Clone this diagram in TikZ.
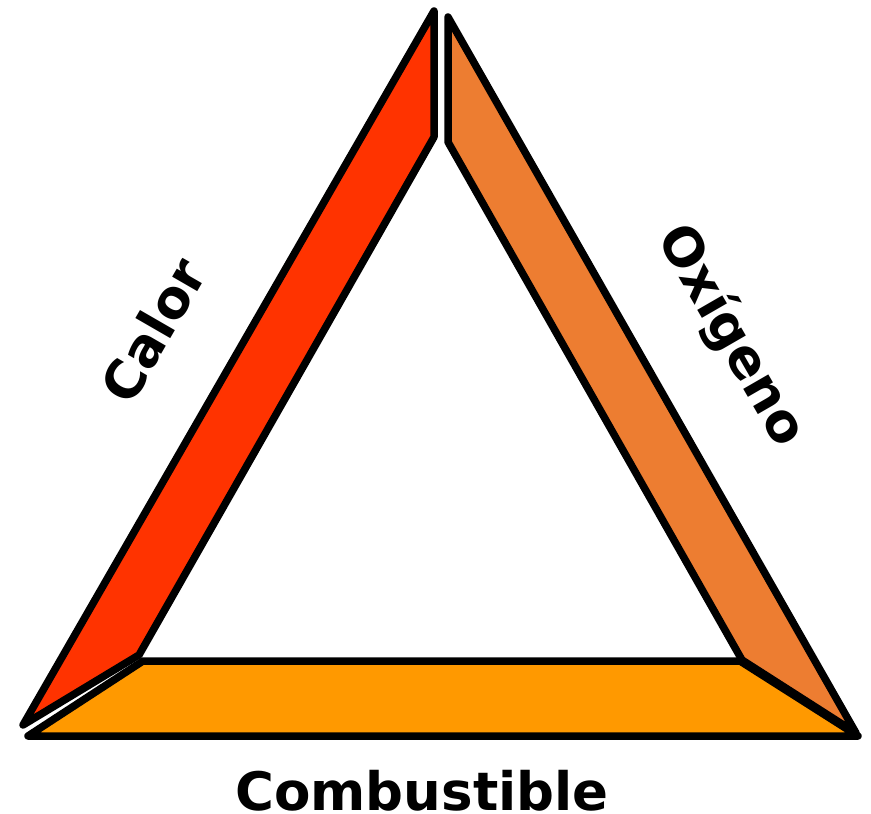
\documentclass[tikz,border=0pt]{standalone}
\usepackage{fontspec}
\setmainfont{DejaVu Sans}
\definecolor{calorred}{HTML}{FF3300}
\definecolor{oxiorange}{HTML}{ED7D31}
\definecolor{combyellow}{HTML}{FF9900}
\begin{document}
\begin{tikzpicture}[x=1pt,y=-1pt,
  side/.style={draw=black,line width=7.5pt,line join=round,line cap=round},
  lab/.style={font=\fontsize{53}{60}\selectfont\bfseries,inner sep=0pt}]
\useasboundingbox (0,0) rectangle (871,814);
% Calor side
\draw[side,fill=calorred] (434,11) -- (434,137) -- (139,655) -- (23,725) -- cycle;
% Oxigeno side
\draw[side,fill=oxiorange] (448,17) -- (448,142) -- (742,660) -- (856,733) -- cycle;
% Combustible side
\draw[side,fill=combyellow] (143,661) -- (740,661) -- (858,736) -- (28,736) -- cycle;
% labels
\node[lab,rotate=60] (calor) at (153,330) {Calor};
\node[lab,rotate=-60] (oxigeno) at (731,336) {Oxígeno};
\node[lab] (comb) at (422,791) {Combustible};
\end{tikzpicture}
\end{document}
